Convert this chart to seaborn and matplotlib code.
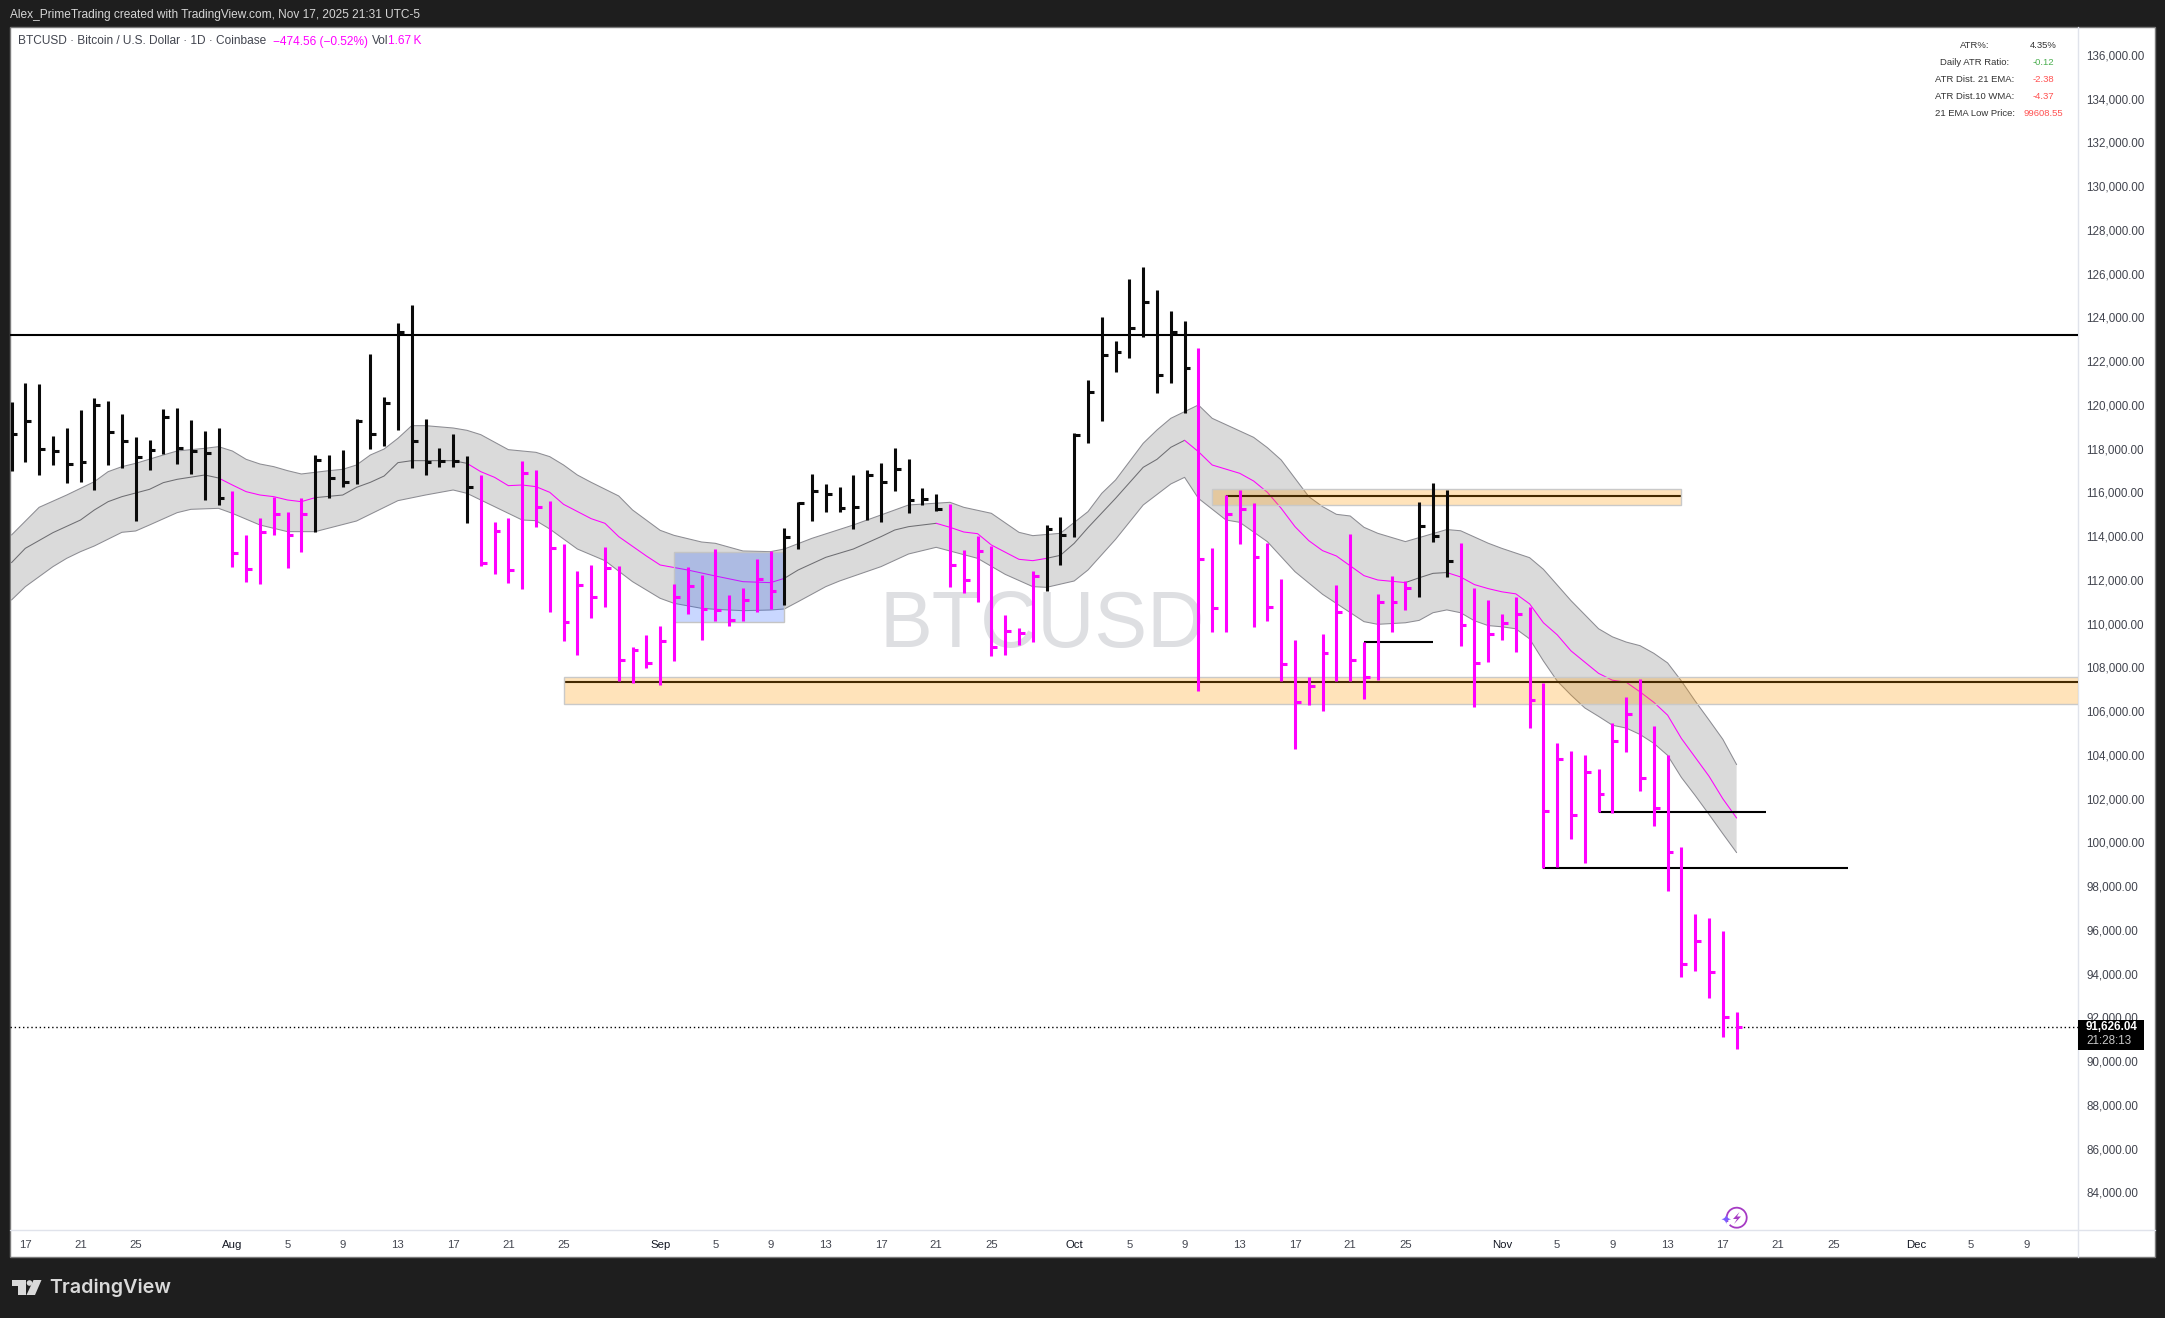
import pandas as pd
import matplotlib
matplotlib.use('Agg')
import matplotlib.pyplot as plt
from matplotlib.patches import Rectangle, Circle, Polygon, Arc
from matplotlib.transforms import ScaledTranslation
import seaborn as sns

# --- Data, x = bars since Jul 16 2025 ---
start_date = pd.Timestamp('2025-07-16')

bar_high = [120207,121060,121015,118638,119003,119826,120374,120237,119643,118592,118455,119872,119917,119369,118866,119003,
            116123,114112,114889,115849,115163,115803,
            117769,117769,117998,119415,122386,120420,123803,124626,119415,118089,118729,117723,
            116855,114706,114889,117495,117083,115666,113701,112467,112741,113563,112695,108992,109541,109953,111872,112649,112283,113472,
            111369,111689,113015,113381,114432,115621,116900,116443,116306,116855,117083,117403,118089,117586,116261,115986,
            115529,113427,114097,113609,110455,109861,112467,
            114569,114935,118775,121197,124077,122980,125814,126363,125311,124351,123894,
            122660,113518,115941,116169,115575,113746,112101,109312,107621,109587,111827,114158,109251,111415,112238,112043,
            115625,116488,116176,
            113751,111694,111144,110537,111272,110813,107360,104605,104238,104091,103412,105524,106699,107526,105377,104091,99886,96782,96598,96011,92301]
bar_low = [117068,117479,116885,117342,116520,116565,116200,117342,117190,114783,117114,117845,117388,116931,115742,115514,
           112680,111994,111903,114143,112634,113366,
           114280,115834,116337,116474,118074,118211,118942,117205,116885,117251,117251,114691,
           112726,112360,111948,111674,114508,110623,109297,108657,110349,110851,107469,107378,108063,107256,108383,110531,109343,110212,
           109983,110212,110623,110760,110943,113472,114783,115194,115194,114417,114798,114737,116154,115148,115483,115240,
           111766,111491,111080,108612,108657,109114,109251,
           111583,112741,114021,118348,119354,121593,122233,123163,120634,121091,119719,
           107012,109709,109709,113731,109937,110212,107469,104330,106372,106097,107469,107469,106646,107515,109709,110721,
           111272,113825,112227,
           109032,106277,108315,109344,108793,105285,98894,98949,100253,99151,101447,101410,104220,102438,100804,97865,93935,94211,92944,91162,90611]
bar_close = [118729,119323,118043,117952,117358,117449,120055,118820,118409,117678,117998,119506,118089,117952,117860,115803,
             113289,112558,114249,115072,114143,115072,
             117541,116717,116535,119323,118729,120146,123391,118409,117449,117495,117495,116306,
             112863,114295,112512,116946,115392,113518,110135,111827,111278,112604,108398,108855,108261,109267,111278,111781,110729,110684,
             110227,111141,112101,111552,114021,115575,116123,115986,115346,115392,116855,116534,117129,115712,115758,115300,
             112741,112055,113381,109023,109724,109632,112238,
             114386,114112,118683,120649,122340,122477,123574,124763,121426,123407,121746,
             113015,110775,115072,115300,113106,110821,108216,106479,107209,108718,110592,108398,107621,111049,111049,111694,
             114559,114100,112925,
             110023,108297,109582,110097,110537,106571,101502,103871,101318,103283,102310,104697,105965,103008,101648,99628,94505,95552,94174,92080,91626]
# bars outside these runs are magenta
black_bar_runs = [(0, 15), (22, 33), (56, 67), (75, 85), (102, 104)]

upper_days = [0,2,4,6,7,8,9,11,12,14,15,16,17,18,19,20,21,23,24,25,26,27,28,29,30,32,33,34,36,38,39,40,41,42,44,45,47,48,50,51,
              53,55,56,58,61,63,65,68,69,71,73,74,76,78,79,80,82,83,84,86,87,90,91,92,93,94,95,96,97,98,99,
              101,103,104,105,107,108,110,111,113,115,116,117,118,119,120,121,122,123,124,125]
upper_vals = [114127,115392,115955,116565,117022,117251,117403,117784,117967,118089,118165,117967,117586,117373,117251,117068,116916,117068,117129,117327,117784,118058,118546,119125,119125,119018,118912,118714,118028,117906,117708,117327,116870,116535,115910,115270,114341,114112,113807,113747,
              113396,113366,113488,113975,114585,115042,115499,115621,115392,115118,114249,114097,114204,115194,116032,116641,118317,118927,119460,120070,119460,118592,118119,117556,116717,115880,115423,115072,114996,114478,114204,
              113825,114192,114376,114321,113751,113513,113090,112558,111125,109840,109472,109233,109068,108719,108279,107452,106534,105671,104789,103632]

mid_days = [0,1,3,5,6,7,8,10,11,12,14,15,16,17,18,19,20,21,22,24,25,26,27,28,29,32,33,34,35,36,37,38,39,40,42,43,44,46,47,49,51,
            53,55,56,57,59,61,63,64,65,67,68,69,70,71,73,74,75,76,77,78,80,82,83,84,85,86,87,89,90,91,92,93,94,95,96,98,99,
            101,102,103,104,105,106,107,108,109,110,111,112,113,114,115,116,117,118,119,120,121,122,123,124,125]
mid_vals = [112863,113518,114234,114813,115270,115651,115880,116215,116520,116672,116870,116733,116413,116108,115955,115880,115727,115651,115834,115955,116306,116535,116824,117434,117525,117525,117403,117022,116763,116382,116413,116337,116078,115529,114874,114661,114051,113168,112756,112527,112253,
            111994,111949,112146,112528,113106,113487,114051,114356,114508,114661,114478,114264,114188,113670,113015,112954,113060,113198,113746,114463,115803,117221,117586,118135,118455,117937,117327,116946,116596,116078,115346,114508,113868,113411,113168,112269,112070,
            111952,112172,112374,112411,112209,111860,111676,111529,111437,110978,110115,109564,108830,108315,107801,107489,107397,106956,106479,105891,104826,103963,103100,102071,101190]
# stretches where the 21 EMA is drawn grey, magenta elsewhere
grey_mid_runs = [(0, 15), (22, 33), (56, 67), (75, 85), (101, 104)]

lower_days = [0,1,3,4,5,6,8,9,10,12,13,15,16,18,20,22,25,28,30,32,33,35,37,38,39,41,43,45,47,48,50,51,
              53,55,56,57,59,60,63,65,67,70,72,74,75,77,78,80,82,84,85,86,88,89,91,93,95,98,99,
              101,102,103,104,105,106,107,108,109,110,111,112,113,114,115,116,117,118,119,120,121,122,123,124,125]
lower_vals = [111156,111765,112680,113061,113366,113625,114250,114311,114585,115148,115301,115346,115118,114585,114280,114280,114767,115697,115955,116184,116032,115423,114813,114783,114402,113487,112954,111994,111233,111004,110775,110730,
              110668,110699,110745,111080,111766,112025,112680,113259,113564,113061,112329,111766,111735,112025,112528,113929,115498,116459,116763,115803,114813,114706,113822,112451,111415,110166,110044,
              110115,110225,110574,110703,110574,110207,109986,109931,109840,109380,108370,107452,106809,106222,105836,105432,105303,105010,104605,104055,103044,102218,101355,100473,99608]

resistance_price = 123270
last_price = 91626.04
# (first bar, last bar, low, high, line price)
zones = [(40, 151, 106387, 107651, 107423), (87, 121, 115478, 116212, 115925)]
blue_box = (48, 56, 110135, 113365)
# (first bar, last bar, price)
short_lines = [(98, 103, 109252), (115, 127.1, 101483), (111, 133.1, 98916)]

price_ticks = list(range(84000, 137000, 2000))
tick_dates = ['2025-07-17','2025-07-21','2025-07-25','2025-08-01','2025-08-05','2025-08-09','2025-08-13','2025-08-17','2025-08-21','2025-08-25',
              '2025-09-01','2025-09-05','2025-09-09','2025-09-13','2025-09-17','2025-09-21','2025-09-25','2025-10-01','2025-10-05','2025-10-09',
              '2025-10-13','2025-10-17','2025-10-21','2025-10-25','2025-11-01','2025-11-05','2025-11-09','2025-11-13','2025-11-17','2025-11-21',
              '2025-11-25','2025-12-01','2025-12-05','2025-12-09']
table_labels = ['ATR%:', 'Daily ATR Ratio:', 'ATR Dist. 21 EMA:', 'ATR Dist.10 WMA:', '21 EMA Low Price:']
table_values = ['4.35%', '-0.12', '-2.38', '-4.37', '99608.55']
table_colors = ['#333333', '#4caf50', '#ff5252', '#ff5252', '#ff5252']

# --- Figure layout (pixels of the 2165x1318 picture) ---
W, H = 2165, 1318
PANE_L, PANE_R, PANE_T, PANE_B = 10, 2077.5, 27, 1230
FRAME_R, FRAME_B = 2154.5, 1257
DARK = '#1e1e1e'
MAGENTA = '#ff00ff'
BLACK = '#0a0a0a'
TEXT = '#42454f'

sns.set_theme(style='white')
plt.rcParams['font.family'] = ['Liberation Sans', 'DejaVu Sans']

fig = plt.figure(figsize=(W / 100, H / 100), dpi=100, facecolor=DARK)

# background: white frame, header and logo
bg = fig.add_axes([0, 0, 1, 1], zorder=0)
bg.set_xlim(0, W)
bg.set_ylim(H, 0)
bg.axis('off')
bg.add_patch(Rectangle((PANE_L, PANE_T), FRAME_R - PANE_L, FRAME_B - PANE_T, fc='white', ec='#7a7a7a', lw=1))
bg.plot([PANE_R, PANE_R], [PANE_T, FRAME_B], color='#e0e3eb', lw=1)
bg.plot([PANE_L, FRAME_R], [PANE_B, PANE_B], color='#e0e3eb', lw=1)
bg.text(10, 15, 'Alex_PrimeTrading created with TradingView.com, Nov 17, 2025 21:31 UTC-5',
        color='#d6d6d6', fontsize=8.6, va='center', ha='left')
bg.text(18, 41.5, 'BTCUSD · Bitcoin / U.S. Dollar · 1D · Coinbase', color=TEXT, fontsize=8.6, va='center')
bg.text(273, 41.5, '\u2212474.56 (\u22120.52%)', color=MAGENTA, fontsize=8.6, va='center')
bg.text(372, 41.5, 'Vol', color=TEXT, fontsize=8.6, va='center')
bg.text(388, 41.5, '1.67\u2009K', color=MAGENTA, fontsize=8.6, va='center')

# TradingView logo
logo = '#d9d9d9'
bg.add_patch(Rectangle((12, 1280), 13.5, 5.5, fc=logo, ec='none'))
bg.add_patch(Rectangle((18, 1280), 7.5, 15, fc=logo, ec='none'))
bg.add_patch(Circle((29.5, 1283), 2.8, fc=logo, ec='none'))
bg.add_patch(Polygon([(33.5, 1280), (41.5, 1280), (35, 1295), (26.5, 1295)], fc=logo, ec='none'))
bg.text(49, 1288, 'TradingView', color=logo, fontsize=14.2, fontfamily='Inter', fontweight='semibold', va='center', ha='left')

# main chart pane
ax = fig.add_axes([PANE_L / W, 1 - PANE_B / H, (PANE_R - PANE_L) / W, (PANE_B - PANE_T) / H], zorder=1)
ax.patch.set_alpha(0)

ax.text(1042, 626, 'BTCUSD', transform=bg.transData, color='#dedfe2', fontsize=57,
        ha='center', va='center', zorder=0.5)

# cloud
ax.fill(upper_days + lower_days[::-1], upper_vals + lower_vals[::-1], fc='#9e9e9e', alpha=0.38, ec='none', zorder=1)
sns.lineplot(x=upper_days, y=upper_vals, color='#8c8c92', lw=0.75, estimator=None, sort=False, ax=ax, zorder=1.2)
sns.lineplot(x=lower_days, y=lower_vals, color='#8c8c92', lw=0.75, estimator=None, sort=False, ax=ax, zorder=1.2)

# 21 EMA, split into grey and magenta stretches
mid = pd.DataFrame({'day': mid_days, 'price': mid_vals})
edges = sorted(set([0, 125] + [d for run in grey_mid_runs for d in run]))
for a, b in zip(edges[:-1], edges[1:]):
    part = mid[(mid['day'] >= a) & (mid['day'] <= b)]
    is_grey = any(r[0] <= a and b <= r[1] for r in grey_mid_runs)
    sns.lineplot(data=part, x='day', y='price', color='#6e6e72' if is_grey else MAGENTA,
                 lw=0.75, estimator=None, sort=False, ax=ax, zorder=1.5)

# levels and zones
ax.axhline(resistance_price, color='black', lw=1.5, zorder=2.5)
for first, last, low, high, level in zones:
    ax.hlines(level, first if first == 40 else first + 1, last, color='black', lw=1.5, zorder=2.5)
    ax.add_patch(Rectangle((first, low), last - first, high - low, fc=(1, 0.6, 0, 0.27), ec='#c9c9c9', lw=1, zorder=3))
first, last, low, high = blue_box
ax.add_patch(Rectangle((first, low), last - first, high - low, fc=(0.16, 0.38, 1, 0.25), ec='#c4c4c4', lw=1, zorder=2))
for first, last, level in short_lines:
    ax.hlines(level, first, last, color='black', lw=1.5, zorder=3.5)

# bars: stem plus close tick only
bars = pd.DataFrame({'high': bar_high, 'low': bar_low, 'close': bar_close})
bars['day'] = bars.index
bars['color'] = MAGENTA
for a, b in black_bar_runs:
    bars.loc[a:b, 'color'] = BLACK
for color, group in bars.groupby('color'):
    ax.vlines(group['day'], group['low'], group['high'], color=color, lw=2.2, zorder=4, capstyle='butt')
    ax.hlines(group['close'], group['day'], group['day'] + 0.42, color=color, lw=2.2, zorder=4, capstyle='butt')

ax.axhline(last_price, color='black', lw=1, ls=(0, (1, 2)), zorder=3.6)

# axes
ax.set_xlim(-0.11, 149.7)
ax.set_ylim(82358, 137348)
ax.set(xlabel='', ylabel='')
ax.yaxis.tick_right()
ax.set_yticks(price_ticks)
ax.set_yticklabels([f'{p:,.2f}' for p in price_ticks], fontsize=8.4, color=TEXT)
ax.tick_params(axis='y', length=0, pad=6.6)
# TradingView prints its labels a little above the true price
for tick in ax.yaxis.get_major_ticks():
    tick.label2.set_transform(tick.label2.get_transform() + ScaledTranslation(0, 1.6 / 100, fig.dpi_scale_trans))
tick_ts = pd.to_datetime(tick_dates)
ax.set_xticks([(t - start_date).days for t in tick_ts])
ax.set_xticklabels([t.strftime('%b') if t.day == 1 else str(t.day) for t in tick_ts], fontsize=8.2, color=TEXT)
for lab, t in zip(ax.get_xticklabels(), tick_ts):
    if t.day == 1:
        lab.set_color('#131722')
ax.tick_params(axis='x', length=0, pad=7.2)
for side in ax.spines:
    ax.spines[side].set_visible(False)

# overlay: last price tag, table, bolt badge
top = fig.add_axes([0, 0, 1, 1], zorder=2)
top.set_xlim(0, W)
top.set_ylim(H, 0)
top.axis('off')
top.add_patch(Rectangle((2078, 1019.5), 66, 30.5, fc='black', ec='none'))
top.text(2086, 1027.5, f'{last_price:,.2f}', color='white', fontsize=8.4, fontweight='bold', va='center', ha='left')
top.text(2086, 1041, '21:28:13', color='#c8c8c8', fontsize=8.4, va='center', ha='left')
for i, (label, value, color) in enumerate(zip(table_labels, table_values, table_colors)):
    y = 45.7 + i * 16.9
    top.text(1975, y, label, color='#333333', fontsize=6.8, ha='center', va='center')
    top.text(2043, y, value, color=color, fontsize=6.8, ha='center', va='center')
top.add_patch(Arc((1736.7, 1217.7), 20, 20, theta1=-205, theta2=135, color='#a63bc4', lw=1.3))
top.add_patch(Polygon([(1739.5, 1212), (1733, 1219), (1737, 1219), (1734, 1224), (1741, 1216.5), (1737, 1216.5)],
                      fc='#a63bc4', ec='none'))
top.text(1725.7, 1221, '\u2726', color='#7b5cff', fontsize=9, ha='center', va='center', fontfamily='DejaVu Sans')

fig.savefig('out.png', dpi=100, facecolor=DARK)
